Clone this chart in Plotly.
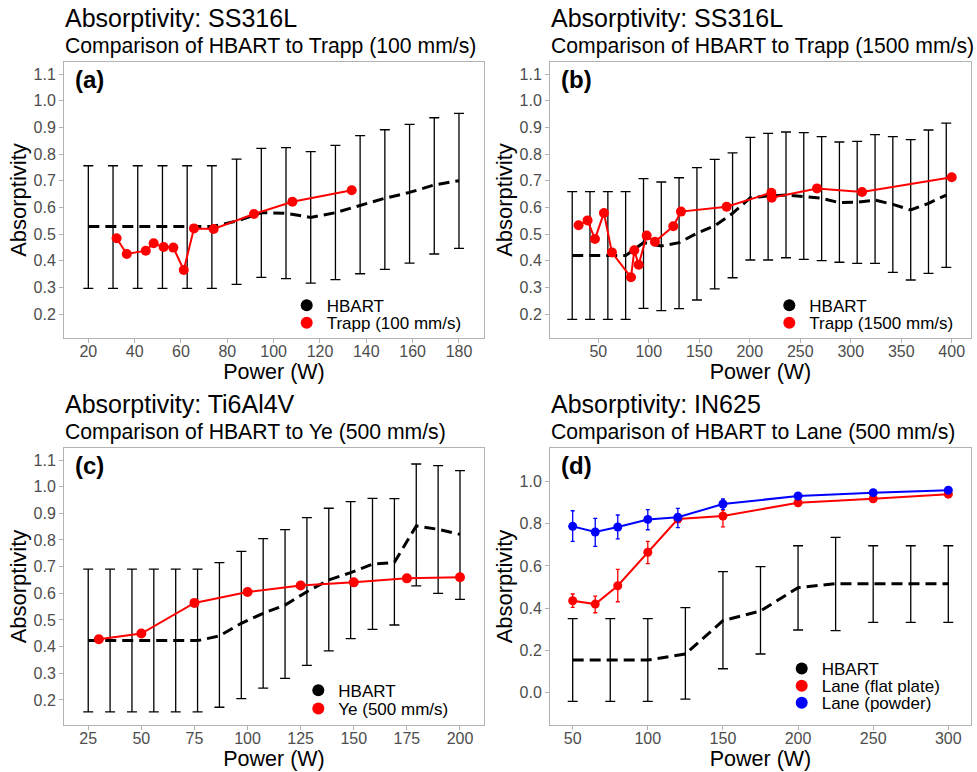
import plotly.graph_objects as go
from plotly.subplots import make_subplots

# ---------------- data ----------------
# (a) SS316L, Trapp 100 mm/s
a_hb_x = [20, 30.67, 41.33, 52, 62.67, 73.33, 84, 94.67, 105.33, 116, 126.67, 137.33, 148, 158.67, 169.33, 180]
a_hb_mean = [0.528, 0.528, 0.528, 0.528, 0.528, 0.528, 0.548, 0.58, 0.578, 0.562, 0.58, 0.606, 0.634, 0.656, 0.684, 0.70]
a_hb_up = [0.756, 0.756, 0.756, 0.756, 0.756, 0.756, 0.781, 0.821, 0.824, 0.809, 0.8325, 0.869, 0.891, 0.911, 0.936, 0.9525]
a_hb_lo = [0.296, 0.296, 0.296, 0.296, 0.296, 0.296, 0.311, 0.3375, 0.3325, 0.316, 0.329, 0.351, 0.3675, 0.391, 0.425, 0.446]
a_tr_x = [32.2, 36.6, 44.8, 48.2, 52.5, 56.7, 61.2, 65.6, 74.1, 91.5, 108.1, 133.7]
a_tr_y = [0.484, 0.425, 0.4375, 0.465, 0.451, 0.449, 0.365, 0.521, 0.519, 0.575, 0.621, 0.664]

# (b) SS316L, Trapp 1500 mm/s
b_hb_x = [24.2, 41.8, 59.5, 77.1, 94.8, 112.4, 130.0, 147.7, 165.3, 183.0, 200.6,
          218.2, 235.9, 253.5, 271.2, 288.8, 306.4, 324.1, 341.7, 359.4, 377.0, 394.6]
b_hb_mean = [0.419, 0.419, 0.419, 0.419, 0.4675, 0.455, 0.4675, 0.5025, 0.531, 0.5775, 0.636,
             0.6425, 0.646, 0.64, 0.634, 0.6175, 0.619, 0.6275, 0.611, 0.59, 0.615, 0.646]
b_hb_up = [0.659, 0.659, 0.659, 0.659, 0.7075, 0.695, 0.711, 0.749, 0.78, 0.804, 0.8625,
           0.8775, 0.8825, 0.88, 0.865, 0.845, 0.8475, 0.8725, 0.865, 0.854, 0.89, 0.916]
b_hb_lo = [0.18, 0.18, 0.18, 0.18, 0.221, 0.2125, 0.22, 0.2525, 0.294, 0.336, 0.4025,
           0.4025, 0.411, 0.405, 0.40, 0.394, 0.39, 0.39, 0.356, 0.3275, 0.3525, 0.375]
b_tr_x = [30.5, 39.4, 46.7, 55.6, 63.5, 82.4, 85.7, 90.0, 97.9, 106.1, 124.3, 131.9, 177.1, 221.4, 221.7, 266.6, 311.2, 400]
b_tr_y = [0.5325, 0.551, 0.481, 0.579, 0.431, 0.3375, 0.439, 0.385, 0.494, 0.471, 0.529, 0.584, 0.6025, 0.655, 0.636, 0.671, 0.6575, 0.7125]

# (c) Ti6Al4V, Ye 500 mm/s
c_hb_x = [25, 35.29, 45.59, 55.88, 66.18, 76.47, 86.76, 97.06, 107.35, 117.65, 127.94, 138.24, 148.53, 158.82, 169.12, 179.41, 189.71, 200]
c_hb_mean = [0.4225, 0.4225, 0.4225, 0.4225, 0.4225, 0.4225, 0.44, 0.4875, 0.525, 0.556, 0.606, 0.65, 0.6775, 0.709, 0.716, 0.8525, 0.84, 0.821]
c_hb_up = [0.691, 0.691, 0.691, 0.691, 0.691, 0.691, 0.715, 0.7575, 0.805, 0.839, 0.884, 0.919, 0.944, 0.956, 0.955, 1.085, 1.079, 1.06]
c_hb_lo = [0.155, 0.155, 0.155, 0.155, 0.155, 0.155, 0.1725, 0.205, 0.244, 0.281, 0.33, 0.384, 0.43, 0.465, 0.481, 0.6275, 0.60, 0.5775]
c_ye_x = [30, 50, 75, 100, 125, 150, 175, 200]
c_ye_y = [0.4275, 0.449, 0.564, 0.605, 0.629, 0.641, 0.656, 0.66]

# (d) IN625, Lane 500 mm/s
d_hb_x = [50, 75, 100, 125, 150, 175, 200, 225, 250, 275, 300]
d_hb_mean = [0.1535, 0.1535, 0.1535, 0.182, 0.340, 0.386, 0.497, 0.516, 0.516, 0.516, 0.516]
d_hb_up = [0.3497, 0.3497, 0.3497, 0.402, 0.573, 0.5965, 0.696, 0.736, 0.696, 0.696, 0.696]
d_hb_lo = [-0.043, -0.043, -0.043, -0.032, 0.112, 0.182, 0.296, 0.293, 0.332, 0.332, 0.332]
d_lane_x = [50, 65, 80, 100, 120, 150, 200, 250, 300]
d_flat_y = [0.435, 0.419, 0.506, 0.665, 0.823, 0.837, 0.900, 0.919, 0.941]
d_flat_up = [0.467, 0.457, 0.584, 0.717, 0.833, 0.865, 0.908, 0.927, 0.948]
d_flat_lo = [0.403, 0.378, 0.430, 0.611, 0.813, 0.786, 0.892, 0.911, 0.934]
d_pow_y = [0.788, 0.761, 0.785, 0.821, 0.831, 0.894, 0.932, 0.948, 0.960]
d_pow_up = [0.862, 0.826, 0.842, 0.867, 0.873, 0.918, 0.940, 0.955, 0.967]
d_pow_lo = [0.717, 0.693, 0.729, 0.772, 0.782, 0.869, 0.924, 0.941, 0.953]

titles = ["Absorptivity: SS316L", "Absorptivity: SS316L", "Absorptivity: Ti6Al4V", "Absorptivity: IN625"]
subtitles = ["Comparison of HBART to Trapp (100 mm/s)", "Comparison of HBART to Trapp (1500 mm/s)",
             "Comparison of HBART to Ye (500 mm/s)", "Comparison of HBART to Lane (500 mm/s)"]
panel_labels = ["(a)", "(b)", "(c)", "(d)"]
x_ticks = [[20, 40, 60, 80, 100, 120, 140, 160, 180],
           [50, 100, 150, 200, 250, 300, 350, 400],
           [25, 50, 75, 100, 125, 150, 175, 200],
           [50, 100, 150, 200, 250, 300]]
y_ticks = [[0.2, 0.3, 0.4, 0.5, 0.6, 0.7, 0.8, 0.9, 1.0, 1.1]] * 3 + [[0.0, 0.2, 0.4, 0.6, 0.8, 1.0]]

# ---------------- layout geometry (pixels) ----------------
W, H = 977, 772
FONT = "Liberation Sans, Arial, Helvetica, sans-serif"
px_x = lambda p: p / W
px_y = lambda p: 1 - p / H

panels = [  # left, right, top, bottom (px)
    (64, 484, 62, 338),
    (550, 971, 62, 338),
    (64, 484, 448, 725),
    (550, 971, 448, 725),
]
x_ranges = [[9.5, 190.8], [2.2, 419.1], [13.6, 211.3], [34.9, 315.1]]
y_ranges = [[0.110, 1.145], [0.110, 1.145], [0.106, 1.145], [-0.155, 1.16]]

# legend entry anchor positions (marker centre x, item centre y) in px
legend_pos = {
    "legend": (306.7, 305.7), "legend2": (306.7, 323.3),
    "legend3": (789.3, 305.7), "legend4": (789.3, 323.3),
    "legend5": (318.3, 690.7), "legend6": (318.3, 709.0),
    "legend7": (801.7, 669.0), "legend8": (801.7, 686.3), "legend9": (801.7, 703.3),
}

fig = make_subplots(rows=2, cols=2)

BLACK = "black"
RED = "#ff0000"
BLUE = "#0000ff"


def hbart(x, m, up, lo, row, col, leg):
    fig.add_trace(go.Scatter(
        x=x, y=m, mode="lines", showlegend=False,
        line=dict(color=BLACK, width=3, dash="11px,6px"),
        error_y=dict(type="data", symmetric=False,
                     array=[u - v for u, v in zip(up, m)],
                     arrayminus=[v - l for v, l in zip(m, lo)],
                     color=BLACK, thickness=1.3, width=5),
        hoverinfo="x+y"), row=row, col=col)
    fig.add_trace(go.Scatter(x=[None], y=[None], mode="markers", name="HBART", legend=leg,
                             marker=dict(color=BLACK, size=10)), row=row, col=col)


def series(x, y, color, name, row, col, leg, up=None, lo=None, size=10):
    err = None
    if up is not None:
        err = dict(type="data", symmetric=False,
                   array=[u - v for u, v in zip(up, y)],
                   arrayminus=[v - l for v, l in zip(y, lo)],
                   color=color, thickness=1.3, width=2)
    fig.add_trace(go.Scatter(x=x, y=y, mode="lines+markers", showlegend=False,
                             line=dict(color=color, width=2), marker=dict(color=color, size=size),
                             error_y=err), row=row, col=col)
    fig.add_trace(go.Scatter(x=[None], y=[None], mode="markers", name=name, legend=leg,
                             marker=dict(color=color, size=10)), row=row, col=col)


hbart(a_hb_x, a_hb_mean, a_hb_up, a_hb_lo, 1, 1, "legend")
series(a_tr_x, a_tr_y, RED, "Trapp (100 mm/s)", 1, 1, "legend2")
hbart(b_hb_x, b_hb_mean, b_hb_up, b_hb_lo, 1, 2, "legend3")
series(b_tr_x, b_tr_y, RED, "Trapp (1500 mm/s)", 1, 2, "legend4")
hbart(c_hb_x, c_hb_mean, c_hb_up, c_hb_lo, 2, 1, "legend5")
series(c_ye_x, c_ye_y, RED, "Ye (500 mm/s)", 2, 1, "legend6")
hbart(d_hb_x, d_hb_mean, d_hb_up, d_hb_lo, 2, 2, "legend7")
series(d_lane_x, d_flat_y, RED, "Lane (flat plate)", 2, 2, "legend8", d_flat_up, d_flat_lo, size=9)
series(d_lane_x, d_pow_y, BLUE, "Lane (powder)", 2, 2, "legend9", d_pow_up, d_pow_lo, size=9)

axis_common = dict(showgrid=False, zeroline=False, showline=True, mirror=True,
                   linecolor="#b3b3b3", linewidth=1, ticks="outside", ticklen=4,
                   tickcolor="#b3b3b3", tickwidth=1,
                   tickfont=dict(family=FONT, size=16, color="#4d4d4d"))

annotations = []
for i, (l, r, t, b) in enumerate(panels):
    xn = "xaxis" if i == 0 else f"xaxis{i + 1}"
    yn = "yaxis" if i == 0 else f"yaxis{i + 1}"
    fig.layout[xn].update(domain=[px_x(l), px_x(r)], range=x_ranges[i], tickvals=x_ticks[i],
                          ticklabelstandoff=-5,
                          title=dict(text="Power (W)", font=dict(family=FONT, size=21.5, color="black"), standoff=2),
                          **axis_common)
    fig.layout[yn].update(domain=[px_y(b), px_y(t)], range=y_ranges[i], tickvals=y_ticks[i],
                          tickformat=".1f",
                          title=dict(text="Absorptivity", font=dict(family=FONT, size=22, color="black"), standoff=0),
                          **axis_common)
    annotations.append(dict(text=titles[i], x=px_x(l - 1), y=px_y(t - 44), xref="paper", yref="paper",
                            xanchor="left", yanchor="middle", showarrow=False,
                            font=dict(family=FONT, size=25, color="black")))
    annotations.append(dict(text=subtitles[i], x=px_x(l - 1), y=px_y(t - 16), xref="paper", yref="paper",
                            xanchor="left", yanchor="middle", showarrow=False,
                            font=dict(family=FONT, size=21.2, color="black")))
    annotations.append(dict(text="<b>" + panel_labels[i] + "</b>", x=px_x(l + 9), y=px_y(t + 17),
                            xref="paper", yref="paper", xanchor="left", yanchor="middle", showarrow=False,
                            font=dict(family=FONT, size=24, color="black")))

legends = {}
for name, (mx, my) in legend_pos.items():
    legends[name] = dict(x=px_x(mx - 20), y=px_y(my), xanchor="left", yanchor="middle",
                         bgcolor="rgba(0,0,0,0)", font=dict(family=FONT, size=17, color="black"),
                         itemsizing="constant")

fig.update_layout(
    width=W, height=H, margin=dict(l=0, r=0, t=0, b=0),
    paper_bgcolor="white", plot_bgcolor="white",
    font=dict(family=FONT, color="black"),
    annotations=annotations,
    **legends,
)

fig.write_html("out.html")
